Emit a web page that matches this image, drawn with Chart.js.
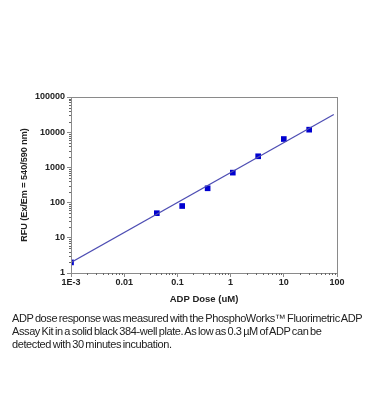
<!DOCTYPE html>
<html>
<head>
<meta charset="utf-8">
<script src="https://cdn.jsdelivr.net/npm/chart.js@4/dist/chart.umd.min.js"></script>
<style>
  body{margin:0;background:#fff;}
  .wrap{position:relative;width:370px;height:420px;}
  .caption{position:absolute;left:12px;top:312px;width:356px;font:11px Arial,'Liberation Sans',sans-serif;
    line-height:13px;color:#222;letter-spacing:-0.4px;word-spacing:-1px;white-space:nowrap;}
</style>
</head>
<body>
<div class="wrap">
  <canvas id="chart" width="370" height="420"></canvas>
  <div class="caption">ADP dose response was measured with the PhosphoWorks™ Fluorimetric ADP<br>
  Assay Kit in a solid black 384-well plate. As low as 0.3 µM of ADP can be<br>
  detected with 30 minutes incubation.</div>
</div>
<script>
// data
const doses = [0.001, 0.041, 0.123, 0.37, 1.1, 3.3, 10, 30];
const rfu = [2, 50, 80, 255, 710, 2070, 6400, 11800];
const fitDose = [0.001, 87];
const fitRfu = [2, 32000];
const xTicks = [0.001, 0.01, 0.1, 1, 10, 100];
const xTickLabels = ['1E-3', '0.01', '0.1', '1', '10', '100'];
const yTicks = [1, 10, 100, 1000, 10000, 100000];
const yTickLabels = ['1', '10', '100', '1000', '10000', '100000'];

const FONT = "Arial, 'Liberation Sans', sans-serif";
const AXIS = '#8a8a8a';

// frame round the plot + small log minor ticks
const framePlugin = {
  id: 'frame',
  afterDraw(chart) {
    const {ctx, chartArea: a, scales} = chart;
    ctx.save();
    ctx.strokeStyle = AXIS;
    ctx.lineWidth = 1;
    ctx.strokeRect(a.left + 0.5, a.top + 0.5, a.right - a.left, a.bottom - a.top);
    ctx.strokeStyle = '#666';
    ctx.beginPath();
    xTicks.slice(0, -1).forEach(b => {
      for (let k = 2; k < 10; k++) {
        const px = Math.round(scales.x.getPixelForValue(b * k)) + 0.5;
        ctx.moveTo(px, a.bottom);
        ctx.lineTo(px, a.bottom + 2);
      }
    });
    yTicks.slice(0, -1).forEach(b => {
      for (let k = 2; k < 10; k++) {
        const py = Math.round(scales.y.getPixelForValue(b * k)) + 0.5;
        ctx.moveTo(a.left, py);
        ctx.lineTo(a.left - 2, py);
      }
    });
    ctx.stroke();
    ctx.restore();
  }
};

new Chart(document.getElementById('chart'), {
  type: 'scatter',
  data: {
    datasets: [{
      label: 'fit',
      data: fitDose.map((d, i) => ({x: d, y: fitRfu[i]})),
      showLine: true,
      borderColor: '#4d4db3',
      borderWidth: 1.2,
      pointRadius: 0
    }, {
      label: 'ADP',
      data: doses.map((d, i) => ({x: d, y: rfu[i]})),
      pointStyle: 'rect',
      pointRadius: 4,
      backgroundColor: '#0000d0',
      borderColor: '#0000d0',
      borderWidth: 0
    }]
  },
  options: {
    responsive: false,
    animation: false,
    layout: {padding: {left: 19, top: 97, right: 33, bottom: 115}},
    plugins: {legend: {display: false}, tooltip: {enabled: false}},
    scales: {
      x: {
        type: 'logarithmic',
        min: 0.001,
        max: 100,
        afterBuildTicks: s => { s.ticks = xTicks.map(v => ({value: v})); },
        afterFit: s => { s.height = 32; },
        grid: {drawOnChartArea: false, color: AXIS, tickLength: 4},
        border: {color: AXIS},
        ticks: {
          autoSkip: false, maxRotation: 0, padding: 0, color: '#222',
          font: {family: FONT, size: 9, weight: 'bold'},
          callback: (v, i) => xTickLabels[i]
        },
        title: {display: true, text: 'ADP Dose (uM)', color: '#222', padding: 0,
          font: {family: FONT, size: 9.5, weight: 'bold'}}
      },
      y: {
        type: 'logarithmic',
        min: 1,
        max: 100000,
        afterBuildTicks: s => { s.ticks = yTicks.map(v => ({value: v})); },
        afterFit: s => { s.width = 52; },
        grid: {drawOnChartArea: false, color: AXIS, tickLength: 4},
        border: {color: AXIS},
        ticks: {
          autoSkip: false, padding: 2, color: '#222',
          font: {family: FONT, size: 9, weight: 'bold'},
          callback: (v, i) => yTickLabels[i]
        },
        title: {display: true, text: 'RFU (Ex/Em = 540/590 nm)', color: '#222', padding: 0,
          font: {family: FONT, size: 9, weight: 'bold'}}
      }
    }
  },
  plugins: [framePlugin]
});
</script>
</body>
</html>
